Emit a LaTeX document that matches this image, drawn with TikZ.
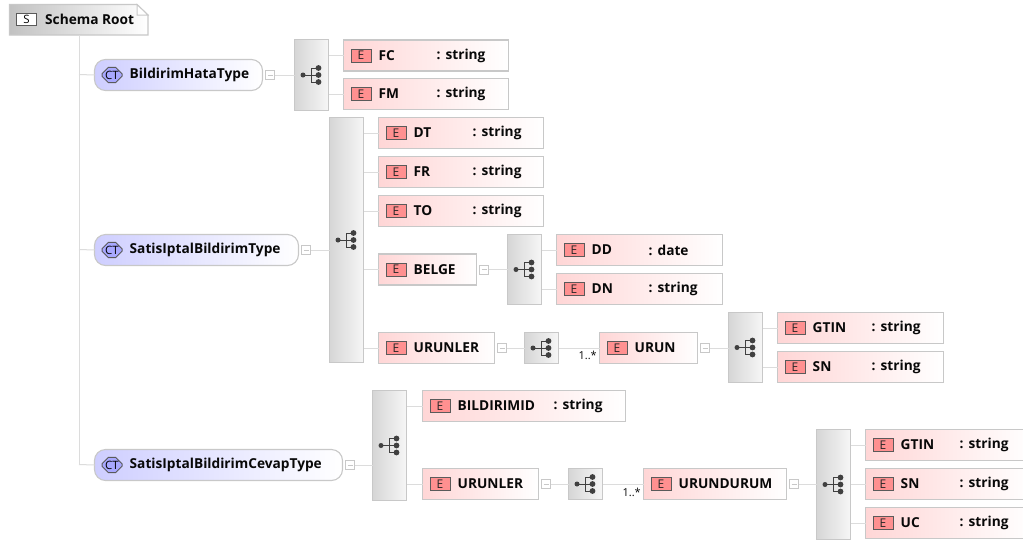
\documentclass[tikz,border=0pt]{standalone}
\usepackage{fontspec}
\setmainfont{Open Sans}
\newcommand{\lblfont}{\fontsize{13.7}{15}\selectfont\bfseries}
\usetikzlibrary{shapes.misc}
\tikzset{
  x=1pt,y=-1pt,
  conn/.style={draw=linegray,line width=1pt},
  trunk/.style={draw=linegray,line width=1pt},
  box/.style={draw=bordergray,line width=1.1pt,anchor=north west,inner sep=0pt,outer sep=0pt},
  elembox/.style={box,left color=elemred,right color=white},
  ctbox/.style={box,rounded corners=11pt,left color=ctblue,right color=white},
  seqbox/.style={box,left color=seqdark,right color=seqlight},
  minusbox/.style={draw=bordergray,fill=white,line width=.8pt,minimum size=9pt,inner sep=0pt,outer sep=0pt,anchor=west},
  badge/.style={draw=badgeline,fill=badgered,line width=1pt,minimum width=20pt,minimum height=13pt,inner sep=0pt,font=\fontsize{12}{12}\selectfont,text=black!85,anchor=west},
  ctbadge/.style={draw=badgeline,fill=ctbadgeblue,line width=1pt,chamfered rectangle,chamfered rectangle xsep=3pt,chamfered rectangle ysep=3.5pt,minimum width=20pt,minimum height=12pt,inner sep=0pt,font=\fontsize{11.5}{12}\selectfont,anchor=west},
  lbl/.style={font=\lblfont,text=textblack,anchor=west,inner sep=0pt},
  mult/.style={font=\fontsize{11}{11}\selectfont,text=textblack,anchor=base east,inner sep=0pt},
}
\definecolor{linegray}{HTML}{DCDCDC}
\definecolor{bordergray}{HTML}{C8C8C8}
\definecolor{elemred}{HTML}{FFD6D6}
\definecolor{ctblue}{HTML}{CECEFF}
\definecolor{seqdark}{HTML}{D6D6D6}
\definecolor{seqlight}{HTML}{F6F6F6}
\definecolor{badgered}{HTML}{FF9090}
\definecolor{ctbadgeblue}{HTML}{A8A8FF}
\definecolor{badgeline}{HTML}{5A5A5A}
\definecolor{textblack}{HTML}{080808}
\definecolor{icongray}{HTML}{404040}
% \elem{name}{x}{y}{w}{label}{column x}{type}
\newcommand{\elem}[7]{%
  \node[elembox,minimum width=#4pt,minimum height=31pt] (#1) at (#2,#3) {};
  \node[badge] (#1b) at ([xshift=7pt]#1.west) {E};
  \node[lbl] (#1t) at ([xshift=35pt]#1.west) {#5};
  \if\relax\detokenize{#7}\relax\else
    \node[lbl] (#1c) at ([xshift=#6pt]#1.west) {:\hspace{5pt}#7};
  \fi
}
% \ct{name}{x}{y}{w}{label}
\newcommand{\ct}[5]{%
  \node[ctbox,minimum width=#4pt,minimum height=31pt] (#1) at (#2,#3) {};
  \node[ctbadge] (#1b) at ([xshift=7pt]#1.west) {CT};
  \node[lbl] (#1t) at ([xshift=35pt]#1.west) {#5};
}
% \seq{name}{x}{y}{h}
\newcommand{\seq}[4]{%
  \node[seqbox,minimum width=34pt,minimum height=#4pt] (#1) at (#2,#3) {};
  \fill[icongray] ([xshift=-8.5pt]#1.center) circle (2.5pt);
  \fill[icongray] ([xshift=7pt,yshift=-7pt]#1.center) circle (2.9pt);
  \fill[icongray] ([xshift=7pt]#1.center) circle (2.9pt);
  \fill[icongray] ([xshift=7pt,yshift=7pt]#1.center) circle (2.9pt);
  \draw[icongray,line width=.9pt] ([xshift=-8.5pt]#1.center) -- ([xshift=7pt]#1.center);
  \draw[icongray,line width=.9pt] ([xshift=7pt,yshift=-7pt]#1.center) -- ([xshift=0pt,yshift=-7pt]#1.center) -- ([xshift=0pt,yshift=7pt]#1.center) -- ([xshift=7pt,yshift=7pt]#1.center);
}
% \mns{name}{parent}
\newcommand{\mns}[2]{%
  \node[minusbox] (#1) at ([xshift=3pt]#2.east) {};
  \draw[bordergray,line width=.8pt] ([xshift=-2.5pt]#1.center) -- ([xshift=2.5pt]#1.center);
}
\begin{document}
\begin{tikzpicture}
\clip (0,0) rectangle (1023,542);
\fill[white] (0,0) rectangle (1023,542);

% root
\draw[draw=bordergray,line width=1.1pt,left color=black!24,right color=white]
  (9.5,4.5) -- (137,4.5) -- (148,15) -- (148,35) -- (9.5,35) -- cycle;
\draw[draw=bordergray,line width=1pt,fill=white] (137,4.5) -- (137,15) -- (148,15) -- cycle;
\node[draw=badgeline,fill=white,line width=1pt,minimum width=20pt,minimum height=12pt,inner sep=0pt,font=\fontsize{11.5}{12}\selectfont,anchor=west] (rootb) at (16,19.5) {S};
\node[lbl] (root) at (45,19) {Schema Root};

% trunk
\coordinate (trunktop) at (79,35);
\coordinate (trunkbot) at (79,464.5);
\coordinate (trunka) at (79,74.5);
\coordinate (trunkb) at (79,249.5);

% --- Bildirim hata
\ct{cta}{94.5}{59.5}{168}{BildirimHataType}
\seq{seqa}{294.5}{39.5}{71}
\elem{fc}{343.5}{40}{165}{FC}{93}{string}
\elem{fm}{343.5}{78.5}{165}{FM}{93}{string}
\mns{ma}{cta}

% --- Satis iptal
\ct{ctb}{94.5}{234.5}{204}{SatisIptalBildirimType}
\seq{seqb}{329.5}{117.5}{245}
\elem{dt}{378.5}{117.5}{165}{DT}{94}{string}
\elem{fr}{378.5}{156.5}{165}{FR}{94}{string}
\elem{to}{378.5}{195.5}{165}{TO}{94}{string}
\elem{belge}{378.5}{254}{98}{BELGE}{0}{}
\elem{urunler}{378.5}{332.5}{116}{URUNLER}{0}{}
\mns{mb}{ctb}
\mns{mbelge}{belge}
\mns{murunler}{urunler}
\seq{seqbelge}{507.5}{234.5}{70}
\elem{dd}{556.5}{234.5}{166}{DD}{92}{date}
\elem{dn}{556.5}{273.5}{166}{DN}{92}{string}
\seq{sequrunler}{524.5}{332.5}{31}
\elem{urun}{599.5}{332.5}{98}{URUN}{0}{}
\mns{murun}{urun}
\seq{sequrun}{728.5}{312.5}{70}
\elem{gtina}{777.5}{312.5}{166}{GTIN}{94}{string}
\elem{sna}{777.5}{351.5}{166}{SN}{94}{string}

% --- Satis iptal cevap
\ct{ctc}{94.5}{449.5}{248}{SatisIptalBildirimCevapType}
\seq{seqc}{372.5}{390.5}{110}
\elem{bid}{422.5}{390.5}{203}{BILDIRIMID}{131}{string}
\elem{urunlerb}{422.5}{468.5}{116}{URUNLER}{0}{}
\mns{mc}{ctc}
\mns{murunlerb}{urunlerb}
\seq{sequrunlerb}{568.5}{468.5}{31}
\elem{urundurum}{643.5}{468.5}{143}{URUNDURUM}{0}{}
\mns{murundurum}{urundurum}
\seq{sequrundurum}{816.5}{429.5}{110}
\elem{gtinb}{865.5}{429.5}{166}{GTIN}{94}{string}
\elem{snb}{865.5}{468.5}{166}{SN}{94}{string}
\elem{ucb}{865.5}{507.5}{166}{UC}{94}{string}

% connectors
\draw[trunk] (trunktop) -- (trunkbot);
\draw[conn] (trunka) -- (cta.west);
\draw[conn] (trunkb) -- (ctb.west);
\draw[conn] (trunkbot) -- (ctc.west);
\draw[conn] (ma.east) -- (ma.east -| seqa.west);
\draw[conn] (mb.east) -- (mb.east -| seqb.west);
\draw[conn] (mc.east) -- (mc.east -| seqc.west);
\draw[conn] (mbelge.east) -- (mbelge.east -| seqbelge.west);
\draw[conn] (murunler.east) -- (sequrunler.west);
\draw[conn] (murun.east) -- (murun.east -| sequrun.west);
\draw[conn] (murunlerb.east) -- (sequrunlerb.west);
\draw[conn] (murundurum.east) -- (murundurum.east -| sequrundurum.west);
\draw[conn] (sequrunler.east) -- (urun.west);
\draw[conn] (sequrunlerb.east) -- (urundurum.west);
\foreach \s/\c in {seqa/fc,seqa/fm,seqb/dt,seqb/fr,seqb/to,seqb/belge,seqb/urunler,seqbelge/dd,seqbelge/dn,sequrun/gtina,sequrun/sna,seqc/bid,seqc/urunlerb,sequrundurum/gtinb,sequrundurum/snb,sequrundurum/ucb}
  \draw[conn] (\c.west -| \s.east) -- (\c.west);

\node[mult] (multa) at (597,359) {1..*};
\node[mult] (multb) at (641,496) {1..*};
\end{tikzpicture}
\end{document}
